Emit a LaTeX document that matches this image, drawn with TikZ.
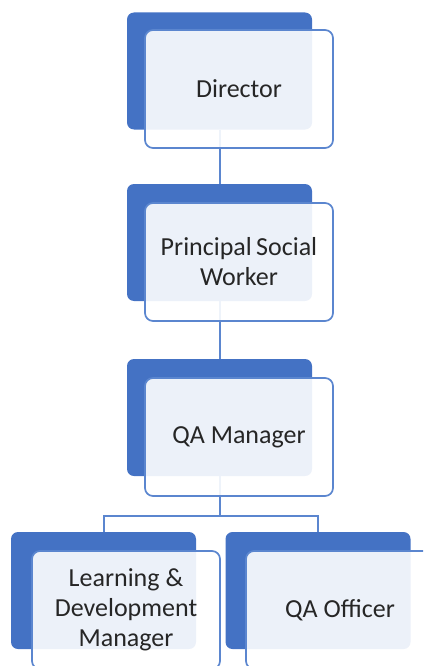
\documentclass[tikz,border=0pt]{standalone}
\usepackage{fontspec}
\setmainfont{Carlito}
\usetikzlibrary{calc}

\definecolor{orgblue}{HTML}{4472C4}
\definecolor{orgline}{HTML}{5B86CF}
\definecolor{orgtext}{HTML}{262626}

\tikzset{
  backbox/.style={rectangle, rounded corners=7pt, fill=orgblue, draw=none,
    inner sep=0pt, minimum width=185pt, minimum height=117pt},
  frontbox/.style={rectangle, rounded corners=8pt, fill=white, fill opacity=0.9,
    text opacity=1, draw=orgline, line width=1.7pt, inner sep=0pt,
    minimum width=188pt, minimum height=118pt, text=orgtext, align=center,
    font=\fontsize{26}{30}\selectfont},
  link/.style={draw=orgline, line width=2pt}
}

\begin{document}
\begin{tikzpicture}[x=1pt, y=-1pt]
  \useasboundingbox (0,0) rectangle (423,666);
  \clip (0,0) rectangle (423,666);

  % blue boxes behind
  \node[backbox] (dir) at (219.5,71) {};
  \node[backbox] (psw) at (219.5,242.5) {};
  \node[backbox] (qam) at (219.5,417.5) {};
  \node[backbox] (ldm) at (103.5,590.5) {};
  \node[backbox] (qao) at (318,590.5) {};

  % connectors
  \draw[link] (dir.south) -- (psw.north);
  \draw[link] (psw.south) -- (qam.north);
  \draw[link] (qam.south) -- ++(0,40) coordinate (split);
  \draw[link] (ldm.north) |- (split) -| (qao.north);

  % text boxes on top
  \node[frontbox] (dirtxt) at ($(dir)+(19.5,18)$) {Director};
  \node[frontbox] (pswtxt) at ($(psw)+(19.5,19.5)$) {Principal\,Social\\Worker};
  \node[frontbox] (qamtxt) at ($(qam)+(19.5,19.5)$) {QA Manager};
  \node[frontbox] (ldmtxt) at ($(ldm)+(22.5,19.5)$) {Learning \&\\Development\\Manager};
  \node[frontbox] (qaotxt) at ($(qao)+(22,19.5)$) {QA Officer};
\end{tikzpicture}
\end{document}
